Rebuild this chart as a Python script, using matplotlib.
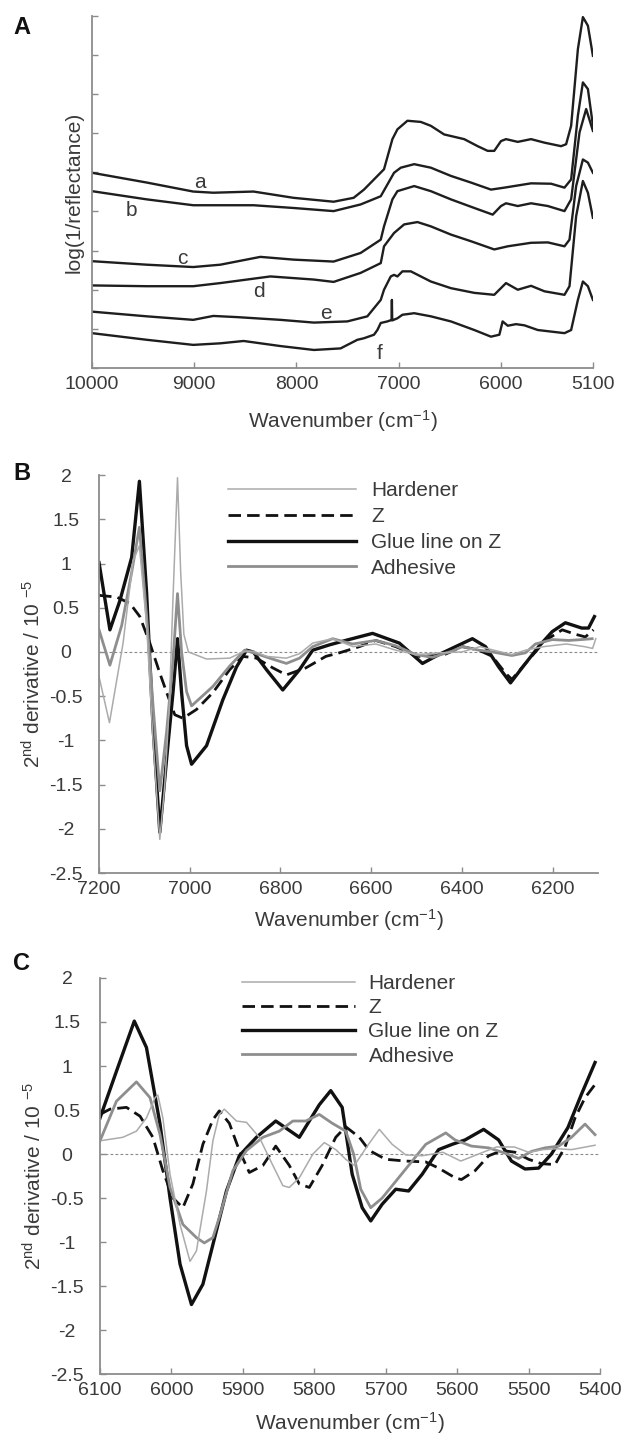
"""NIR spectra (A) and second-derivative spectra (B, C) of glue line samples."""

import matplotlib

matplotlib.use("Agg")
import matplotlib.pyplot as plt
from matplotlib.lines import Line2D

plt.rcParams["font.family"] = ["Liberation Sans", "DejaVu Sans"]
plt.rcParams["mathtext.default"] = "regular"

# ---- Panel A: log(1/R) spectra (arbitrary units)
a_wn = [10000, 9464, 9010, 8814, 8420, 8030, 7637, 7441, 7340, 7144, 7062, 7013, 6915, 6784, 6686,
        6556, 6360, 6228, 6130, 6066, 6000, 5951, 5836, 5706, 5575, 5412, 5363, 5314, 5248, 5199,
        5150, 5101]
a_val = [0.499, 0.474, 0.451, 0.448, 0.451, 0.435, 0.425, 0.435, 0.456, 0.508, 0.585, 0.610, 0.632,
         0.629, 0.619, 0.597, 0.585, 0.567, 0.555, 0.555, 0.580, 0.585, 0.578, 0.585, 0.576, 0.567,
         0.572, 0.619, 0.815, 0.897, 0.875, 0.798]

b_wn = [10000, 9464, 9010, 8420, 8030, 7637, 7373, 7176, 7046, 6980, 6849, 6686, 6490, 6294, 6098,
        5967, 5706, 5510, 5379, 5314, 5248, 5199, 5150, 5101]
b_val = [0.452, 0.431, 0.416, 0.416, 0.409, 0.401, 0.418, 0.439, 0.499, 0.512, 0.521, 0.512, 0.491,
         0.474, 0.456, 0.461, 0.472, 0.471, 0.461, 0.482, 0.645, 0.730, 0.713, 0.620]

c_wn = [10000, 9464, 9010, 8745, 8353, 8030, 7637, 7373, 7176, 7144, 7062, 7013, 6849, 6686, 6490,
        6261, 6081, 6000, 5951, 5836, 5706, 5542, 5379, 5314, 5232, 5167, 5101]
c_val = [0.273, 0.264, 0.258, 0.264, 0.284, 0.277, 0.272, 0.294, 0.328, 0.362, 0.431, 0.452, 0.465,
         0.452, 0.431, 0.409, 0.392, 0.414, 0.421, 0.414, 0.421, 0.414, 0.401, 0.431, 0.602, 0.662,
         0.606]

d_wn = [10000, 9464, 9010, 8745, 8255, 7830, 7637, 7373, 7176, 7144, 7046, 6947, 6817, 6686, 6490,
        6294, 6066, 5934, 5706, 5542, 5379, 5330, 5265, 5199, 5150, 5101]
d_val = [0.211, 0.209, 0.209, 0.217, 0.234, 0.226, 0.220, 0.243, 0.268, 0.311, 0.345, 0.367, 0.373,
         0.362, 0.341, 0.324, 0.303, 0.311, 0.320, 0.321, 0.311, 0.328, 0.465, 0.533, 0.525, 0.499]

e_wn = [10000, 9464, 9010, 8814, 8582, 8157, 7830, 7503, 7307, 7176, 7144, 7078, 7046, 7013, 6964,
        6882, 6686, 6490, 6261, 6066, 5951, 5836, 5706, 5575, 5379, 5330, 5265, 5199, 5150, 5101]
e_val = [0.144, 0.132, 0.123, 0.133, 0.130, 0.123, 0.116, 0.119, 0.132, 0.174, 0.200, 0.234, 0.238,
         0.234, 0.247, 0.247, 0.221, 0.204, 0.192, 0.187, 0.217, 0.200, 0.210, 0.196, 0.187, 0.209,
         0.388, 0.478, 0.448, 0.384]

f_wn = [10000, 9464, 9010, 8745, 8517, 8157, 7830, 7569, 7405, 7340, 7242, 7209, 7176, 7111, 7078,
        7070, 7067, 7064, 7059, 7013, 6964, 6849, 6686, 6490, 6261, 6098, 6016, 5984, 5934, 5853,
        5771, 5640, 5379, 5314, 5248, 5199, 5150, 5101]
f_val = [0.089, 0.072, 0.059, 0.063, 0.069, 0.056, 0.046, 0.050, 0.072, 0.076, 0.085, 0.097, 0.115,
         0.119, 0.122, 0.122, 0.174, 0.122, 0.122, 0.127, 0.136, 0.140, 0.132, 0.119, 0.097, 0.080,
         0.085, 0.119, 0.108, 0.112, 0.109, 0.097, 0.089, 0.097, 0.174, 0.221, 0.209, 0.174]

spectra_a = [(a_wn, a_val), (b_wn, b_val), (c_wn, c_val), (d_wn, d_val), (e_wn, e_val), (f_wn, f_val)]
spectrum_labels = ["a", "b", "c", "d", "e", "f"]
spectrum_label_pos = [(8941, 0.474), (9611, 0.403), (9121, 0.281), (8370, 0.196), (7716, 0.140),
                      (7186, 0.038)]

# ---- Panel B: 2nd derivative, 7200-6100 cm-1
glue_b_wn = [7200, 7176, 7154, 7128, 7111, 7095, 7081, 7066, 7051, 7037, 7027, 7018, 7007, 6996, 6963,
             6927, 6897, 6875, 6860, 6831, 6795, 6758, 6729, 6692, 6653, 6597, 6538, 6487, 6451, 6414,
             6377, 6348, 6319, 6293, 6260, 6231, 6201, 6172, 6136, 6121, 6108]
glue_b = [1.01, 0.25, 0.58, 1.07, 1.93, 0.66, -0.84, -2.04, -1.21, -0.46, 0.15, -0.46, -1.06, -1.27,
          -1.06, -0.54, -0.17, 0.02, 0.0, -0.20, -0.43, -0.20, 0.02, 0.08, 0.135, 0.21, 0.10, -0.13,
          -0.03, 0.06, 0.15, 0.06, -0.17, -0.35, -0.13, 0.06, 0.23, 0.33, 0.27, 0.27, 0.40]

z_b_wn = [7200, 7161, 7132, 7110, 7088, 7066, 7048, 7033, 7015, 6985, 6949, 6912, 6883, 6853, 6817,
          6787, 6744, 6700, 6670, 6626, 6590, 6546, 6495, 6443, 6399, 6363, 6333, 6304, 6290, 6260,
          6216, 6179, 6150, 6128, 6110]
z_b = [0.64, 0.62, 0.55, 0.40, 0.10, -0.24, -0.50, -0.71, -0.75, -0.65, -0.46, -0.20, -0.05, -0.07,
       -0.18, -0.26, -0.18, -0.05, -0.01, 0.06, 0.13, 0.06, -0.05, -0.04, 0.06, 0.02, -0.05, -0.24,
       -0.31, -0.13, 0.13, 0.25, 0.20, 0.17, 0.25]

adh_b_wn = [7200, 7176, 7150, 7128, 7111, 7095, 7081, 7066, 7051, 7037, 7027, 7018, 7007, 6996, 6949,
            6912, 6879, 6853, 6824, 6787, 6758, 6729, 6685, 6641, 6590, 6546, 6502, 6465, 6421, 6399,
            6363, 6333, 6290, 6260, 6238, 6201, 6165, 6136, 6113]
adh_b = [0.25, -0.15, 0.30, 0.90, 1.41, 0.40, -0.60, -1.57, -0.90, -0.10, 0.66, 0.0, -0.45, -0.61,
         -0.39, -0.16, 0.02, -0.02, -0.07, -0.13, -0.07, 0.06, 0.15, 0.09, 0.13, 0.07, -0.03, -0.06,
         0.01, 0.06, 0.02, 0.0, -0.04, -0.01, 0.09, 0.14, 0.13, 0.14, 0.15]

hard_b_wn = [7200, 7177, 7147, 7125, 7111, 7095, 7081, 7066, 7055, 7045, 7037, 7027, 7020, 7013, 7003,
             6963, 6912, 6883, 6860, 6831, 6787, 6758, 6729, 6685, 6640, 6590, 6546, 6500, 6450, 6400,
             6360, 6330, 6290, 6260, 6220, 6170, 6130, 6112, 6105]
hard_b = [-0.28, -0.80, 0.10, 1.03, 1.20, 0.30, -1.00, -2.12, -1.50, -0.60, 0.60, 1.97, 0.90, 0.20,
          0.0, -0.08, -0.07, 0.0, 0.01, -0.05, -0.07, -0.02, 0.10, 0.15, 0.06, 0.09, 0.02, -0.03, -0.01,
          0.0, 0.06, 0.02, -0.03, 0.02, 0.06, 0.09, 0.06, 0.04, 0.15]

# ---- Panel C: 2nd derivative, 6100-5400 cm-1
glue_c_wn = [6100, 6077, 6052, 6035, 6016, 6002, 5988, 5972, 5956, 5942, 5923, 5905, 5881, 5854, 5821,
             5793, 5777, 5761, 5747, 5733, 5721, 5705, 5686, 5668, 5649, 5626, 5607, 5589, 5563, 5542,
             5524, 5505, 5486, 5468, 5445, 5426, 5407]
glue_c = [0.41, 0.94, 1.51, 1.21, 0.34, -0.50, -1.25, -1.71, -1.48, -1.03, -0.42, -0.02, 0.19, 0.375,
          0.19, 0.56, 0.72, 0.53, -0.23, -0.61, -0.76, -0.57, -0.40, -0.42, -0.23, 0.05, 0.11, 0.16,
          0.28, 0.16, -0.08, -0.17, -0.16, 0.0, 0.30, 0.68, 1.04]

z_c_wn = [6100, 6086, 6063, 6044, 6026, 6012, 5998, 5984, 5970, 5956, 5942, 5933, 5919, 5905, 5891,
          5872, 5854, 5835, 5821, 5807, 5789, 5770, 5756, 5737, 5723, 5700, 5672, 5644, 5626, 5603,
          5594, 5575, 5556, 5537, 5519, 5500, 5482, 5463, 5449, 5435, 5421, 5407]
z_c = [0.45, 0.51, 0.53, 0.43, 0.19, -0.19, -0.50, -0.61, -0.34, 0.11, 0.39, 0.49, 0.35, 0.04, -0.21,
       -0.13, 0.09, -0.13, -0.34, -0.38, -0.13, 0.19, 0.31, 0.19, 0.04, -0.06, -0.08, -0.09, -0.16,
       -0.27, -0.29, -0.19, -0.02, 0.04, 0.02, -0.06, -0.11, -0.12, 0.08, 0.41, 0.64, 0.79]

adh_c_wn = [6100, 6077, 6049, 6030, 6016, 6002, 5984, 5965, 5954, 5942, 5933, 5914, 5895, 5872, 5849,
            5830, 5812, 5793, 5775, 5756, 5745, 5735, 5721, 5705, 5686, 5663, 5644, 5616, 5603, 5580,
            5556, 5533, 5514, 5496, 5477, 5458, 5440, 5421, 5414, 5407]
adh_c = [0.15, 0.60, 0.82, 0.64, 0.22, -0.38, -0.80, -0.95, -1.01, -0.95, -0.72, -0.19, 0.04, 0.19,
         0.26, 0.375, 0.375, 0.45, 0.35, 0.26, 0.0, -0.40, -0.61, -0.50, -0.31, -0.08, 0.11, 0.24, 0.16,
         0.09, 0.07, 0.01, -0.05, 0.03, 0.07, 0.09, 0.19, 0.34, 0.28, 0.22]

hard_c_wn = [6100, 6068, 6049, 6035, 6023, 6019, 6012, 6002, 5988, 5974, 5965, 5951, 5942, 5933, 5926,
             5909, 5895, 5877, 5858, 5844, 5835, 5821, 5802, 5786, 5770, 5756, 5744, 5725, 5709, 5691,
             5672, 5649, 5620, 5595, 5570, 5545, 5520, 5500, 5480, 5460, 5440, 5420, 5407]
hard_c = [0.15, 0.19, 0.26, 0.41, 0.64, 0.67, 0.41, -0.23, -0.80, -1.22, -1.10, -0.42, 0.15, 0.45, 0.51,
          0.375, 0.36, 0.19, -0.13, -0.36, -0.38, -0.27, 0.0, 0.13, 0.05, -0.06, -0.13, 0.10, 0.28,
          0.11, -0.01, -0.02, 0.02, -0.08, 0.0, 0.08, 0.08, 0.02, 0.05, 0.06, 0.05, 0.08, 0.10]

series_names = ["Hardener", "Z", "Glue line on Z", "Adhesive"]
deriv_yticks = [-2.5, -2, -1.5, -1, -0.5, 0, 0.5, 1, 1.5, 2]
deriv_ytick_labels = ["-2.5", "-2", "-1.5", "-1", "-0.5", "0", "0.5", "1", "1.5", "2"]

b_xticks = [7200, 7000, 6800, 6600, 6400, 6200]
c_xticks = [6100, 6000, 5900, 5800, 5700, 5600, 5500, 5400]
a_xticks = [10000, 9000, 8000, 7000, 6000, 5100]

SPINE = "#8c8c8c"
TXT = "#3a3a3a"
styles = {
    "Hardener": dict(color="#ababab", lw=1.1),
    "Z": dict(color="#111111", lw=2.0, ls=(0, (4.5, 2.2))),
    "Glue line on Z": dict(color="#111111", lw=2.4),
    "Adhesive": dict(color="#8e8e8e", lw=2.0),
}


def style_axes(ax):
    for side in ("top", "right"):
        ax.spines[side].set_visible(False)
    for side in ("left", "bottom"):
        ax.spines[side].set_color(SPINE)
        ax.spines[side].set_linewidth(1.3)
    ax.tick_params(direction="in", length=4, width=1, color=SPINE, labelcolor=TXT, labelsize=14)
    ax.tick_params(axis="x", pad=6)


fig = plt.figure(figsize=(6.22, 14.34), dpi=100)

# ---------------- A
axA = fig.add_axes([0.1479, 0.7434, 0.8055, 0.2455])
for (wn, val) in spectra_a:
    axA.plot(wn, val, color="#1e1e1e", lw=1.7)
for lab, (x, y) in zip(spectrum_labels, spectrum_label_pos):
    axA.text(x, y, lab, fontsize=15, color=TXT, ha="center", va="center")
axA.set_xlim(10000, 5100)
axA.set_ylim(0, 0.9)
axA.set_xticks(a_xticks)
axA.set_xticklabels([str(t) for t in a_xticks])
axA.set_yticks([i * 0.1 for i in range(10)])
axA.set_yticklabels([])
style_axes(axA)
axA.set_ylabel("log(1/reflectance)", fontsize=15, color=TXT)
axA.yaxis.set_label_coords(-0.016, 0.5)
axA.set_xlabel("Wavenumber (cm$^{-1}$)", fontsize=15, color=TXT, va="center")
axA.xaxis.set_label_coords(0.5, -0.152)

# ---------------- B and C
panels = [
    ([0.1592, 0.3912, 0.8023, 0.2775], (7200, 6100), b_xticks,
     {"Hardener": (hard_b_wn, hard_b), "Z": (z_b_wn, z_b),
      "Glue line on Z": (glue_b_wn, glue_b), "Adhesive": (adh_b_wn, adh_b)},
     (0.2585, 0.985), 6.15, 0.72, 0.33, -0.118),
    ([0.1608, 0.0418, 0.8039, 0.2762], (6100, 5400), c_xticks,
     {"Hardener": (hard_c_wn, hard_c), "Z": (z_c_wn, z_c),
      "Glue line on Z": (glue_c_wn, glue_c), "Adhesive": (adh_c_wn, adh_c)},
     (0.284, 1.010), 5.4, 0.67, 0.25, -0.124),
]

for rect, xlim, xticks, data, leg_anchor, hlen, hpad, lspace, xlab_y in panels:
    ax = fig.add_axes(rect)
    ax.axhline(0, color="#8a8a8a", lw=0.8, ls=(0, (2.5, 2)), zorder=1)
    for name in ["Glue line on Z", "Z", "Adhesive", "Hardener"]:
        wn, val = data[name]
        ax.plot(wn, val, zorder=2, **styles[name])
    ax.set_xlim(*xlim)
    ax.set_ylim(-2.5, 2)
    ax.set_xticks(xticks)
    ax.set_xticklabels([str(t) for t in xticks])
    ax.set_yticks(deriv_yticks)
    ax.set_yticklabels(deriv_ytick_labels)
    style_axes(ax)
    ax.tick_params(axis="y", pad=23.8)
    for lbl in ax.get_yticklabels():
        lbl.set_horizontalalignment("center")
    ax.set_ylabel("2$^{nd}$ derivative / 10 $^{-5}$", fontsize=15, color=TXT)
    ax.yaxis.set_label_coords(-0.11, 0.5)
    ax.set_xlabel("Wavenumber (cm$^{-1}$)", fontsize=15, color=TXT, va="center")
    ax.xaxis.set_label_coords(0.5, xlab_y)
    handles = [Line2D([], [], **styles[n]) for n in series_names]
    leg = ax.legend(handles, series_names, loc="upper left", bbox_to_anchor=leg_anchor,
                    frameon=False, fontsize=15, handlelength=hlen, handletextpad=hpad,
                    labelspacing=lspace, borderpad=0, borderaxespad=0)
    for t in leg.get_texts():
        t.set_color(TXT)

for letter, ypix in (("A", 28), ("B", 473), ("C", 963)):
    fig.text(22 / 622, 1 - ypix / 1434, letter, fontsize=17, fontweight="bold",
             ha="center", va="center", color="#111111")

fig.savefig("out.png", dpi=100)
